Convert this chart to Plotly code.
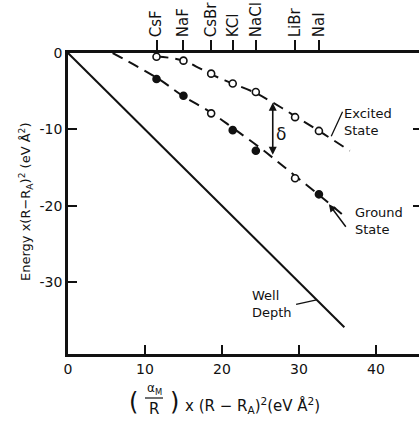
import plotly.graph_objects as go

# ---- data ----
compounds = ["CsF", "NaF", "CsBr", "KCl", "NaCl", "LiBr", "NaI"]
compound_x = [11.5, 15.0, 18.6, 21.4, 24.4, 29.5, 32.6]
excited_y = [-0.5, -1.0, -2.7, -4.0, -5.1, -8.4, -10.2]
ground_y = [-3.4, -5.6, -7.9, -10.1, -12.8, -16.4, -18.5]
ground_filled = [True, True, False, True, True, False, True]

excited_curve_x = [11.6, 15.0, 18.6, 21.4, 24.3, 27.8, 29.7, 32.6, 36.6]
excited_curve_y = [-0.46, -1.0, -2.8, -4.0, -5.2, -7.2, -8.4, -10.2, -12.8]
ground_curve_x = [5.8, 11.7, 14.9, 18.6, 21.4, 25.2, 28.8, 33.6, 36.2]
ground_curve_y = [0.0, -3.35, -5.6, -7.8, -9.8, -12.6, -15.5, -19.4, -21.6]
well_x = [0, 35.9]
well_y = [0, -35.9]

x_ticks = [0, 10, 20, 30, 40]
y_ticks = [0, -10, -20, -30]

FONT = "DejaVu Sans"
BLACK = "#111111"

fig = go.Figure()

dash = "11px,7px"
fig.add_trace(go.Scatter(x=excited_curve_x, y=excited_curve_y, mode="lines",
                         line=dict(color=BLACK, width=2, dash=dash, shape="spline"),
                         hoverinfo="skip"))
fig.add_trace(go.Scatter(x=ground_curve_x, y=ground_curve_y, mode="lines",
                         line=dict(color=BLACK, width=2, dash=dash, shape="spline"),
                         hoverinfo="skip"))
fig.add_trace(go.Scatter(x=well_x, y=well_y, mode="lines",
                         line=dict(color=BLACK, width=2), hoverinfo="skip"))

fig.add_trace(go.Scatter(x=compound_x, y=excited_y, mode="markers",
                         marker=dict(symbol="circle", size=7, color="white",
                                     line=dict(color=BLACK, width=1.6))))
fig.add_trace(go.Scatter(x=compound_x, y=ground_y, mode="markers",
                         marker=dict(symbol="circle", size=7,
                                     color=[BLACK if f else "white" for f in ground_filled],
                                     line=dict(color=BLACK, width=1.6))))
# invisible trace to activate top axis
fig.add_trace(go.Scatter(x=compound_x, y=excited_y, xaxis="x2", mode="markers",
                         marker=dict(opacity=0), hoverinfo="skip"))
# invisible trace for right axis
fig.add_trace(go.Scatter(x=compound_x, y=ground_y, yaxis="y2", mode="markers",
                         marker=dict(opacity=0), hoverinfo="skip"))

XR = [0, 45.6]
YR = [-39.4, 0]

fig.update_layout(
    width=419, height=423,
    margin=dict(l=68, r=0, t=53, b=69),
    paper_bgcolor="white", plot_bgcolor="white",
    showlegend=False,
    font=dict(family=FONT, color=BLACK, size=14),
    xaxis=dict(range=XR, showgrid=False, zeroline=False, showline=True,
               linecolor=BLACK, linewidth=2.5, ticks="inside", ticklen=9,
               tickwidth=2, tickcolor=BLACK, tickvals=x_ticks,
               ticktext=[str(v) for v in x_ticks],
               tickfont=dict(size=14, family=FONT)),
    xaxis2=dict(range=XR, overlaying="x", side="top", showgrid=False,
                zeroline=False, showline=True, linecolor=BLACK, linewidth=2.5,
                ticks="outside", ticklen=10, tickwidth=2, tickcolor=BLACK,
                tickvals=compound_x, ticktext=compounds, tickangle=-90,
                tickfont=dict(size=15, family=FONT)),
    yaxis=dict(range=YR, showgrid=False, zeroline=False, showline=True,
               linecolor=BLACK, linewidth=2.5, ticks="inside", ticklen=9,
               tickwidth=2, tickcolor=BLACK, tickvals=y_ticks,
               ticktext=[str(v) for v in y_ticks],
               tickfont=dict(size=14, family=FONT)),
    yaxis2=dict(range=YR, overlaying="y", side="right", showgrid=False,
                zeroline=False, showline=False, ticks="inside", ticklen=6,
                tickwidth=2, tickcolor=BLACK, tickvals=[-10, -20],
                showticklabels=False),
)

def px2paper(px, py):
    return (px - 68) / 351.0, (354 - py) / 301.0

def txt_ann(text, px, py, size, xanchor="center", angle=0):
    xp, yp = px2paper(px, py)
    return dict(x=xp, y=yp, xref="paper", yref="paper", showarrow=False,
                xanchor=xanchor, yanchor="middle", textangle=angle,
                text=text, font=dict(size=size, family=FONT))

anns = []
# y axis title
anns.append(txt_ann("Energy x(R−R<sub>A</sub>)<sup>2</sup> (eV Å<sup>2</sup>)",
                    26, 202, 13, angle=-90))
# x axis title pieces
anns.append(txt_ann("(", 133, 402, 24))
anns.append(txt_ann(")", 174, 402, 24))
anns.append(txt_ann("α<sub>M</sub>", 154, 389, 12))
anns.append(txt_ann("R", 154, 409, 15))
anns.append(txt_ann("x (R − R<sub>A</sub>)<sup>2</sup>(eV Å<sup>2</sup>)", 183, 405, 15,
                    xanchor="left"))

# curve labels
for text, x, y in [("Excited<br>State", 35.6, -9.0),
                   ("Ground<br>State", 37.0, -22.0),
                   ("Well<br>Depth", 23.7, -32.8)]:
    anns.append(dict(x=x, y=y, xref="x", yref="y", showarrow=False, xanchor="left",
                     yanchor="middle", align="left", font=dict(size=13, family=FONT),
                     text=text))
# leaders
anns.append(dict(x=34.2, y=-10.9, xref="x", yref="y", ax=12, ay=-26,
                 showarrow=True, arrowhead=0, arrowwidth=1.3, arrowcolor=BLACK, text=""))
anns.append(dict(x=33.9, y=-19.8, xref="x", yref="y", ax=18, ay=24,
                 showarrow=True, arrowhead=2, arrowsize=1, arrowwidth=1.5,
                 arrowcolor=BLACK, text=""))
anns.append(dict(x=32.3, y=-32.3, xref="x", yref="y", ax=-22, ay=5,
                 showarrow=True, arrowhead=0, arrowwidth=1.3, arrowcolor=BLACK, text=""))
# delta double arrow
anns.append(dict(x=26.6, y=-6.5, xref="x", yref="y", ax=26.6, ay=-13.5,
                 axref="x", ayref="y", showarrow=True, arrowhead=2, arrowwidth=1.6,
                 arrowcolor=BLACK, text="", arrowside="end+start"))
anns.append(dict(x=27.7, y=-10.6, xref="x", yref="y", showarrow=False,
                 text="δ", font=dict(size=17, family=FONT)))

fig.update_layout(annotations=anns)

# fraction bar
x0, y0 = px2paper(145, 398)
x1, _ = px2paper(163, 398)
fig.add_shape(type="line", xref="paper", yref="paper", x0=x0, x1=x1, y0=y0, y1=y0,
              line=dict(color=BLACK, width=1.2))

fig.write_html("out.html")
